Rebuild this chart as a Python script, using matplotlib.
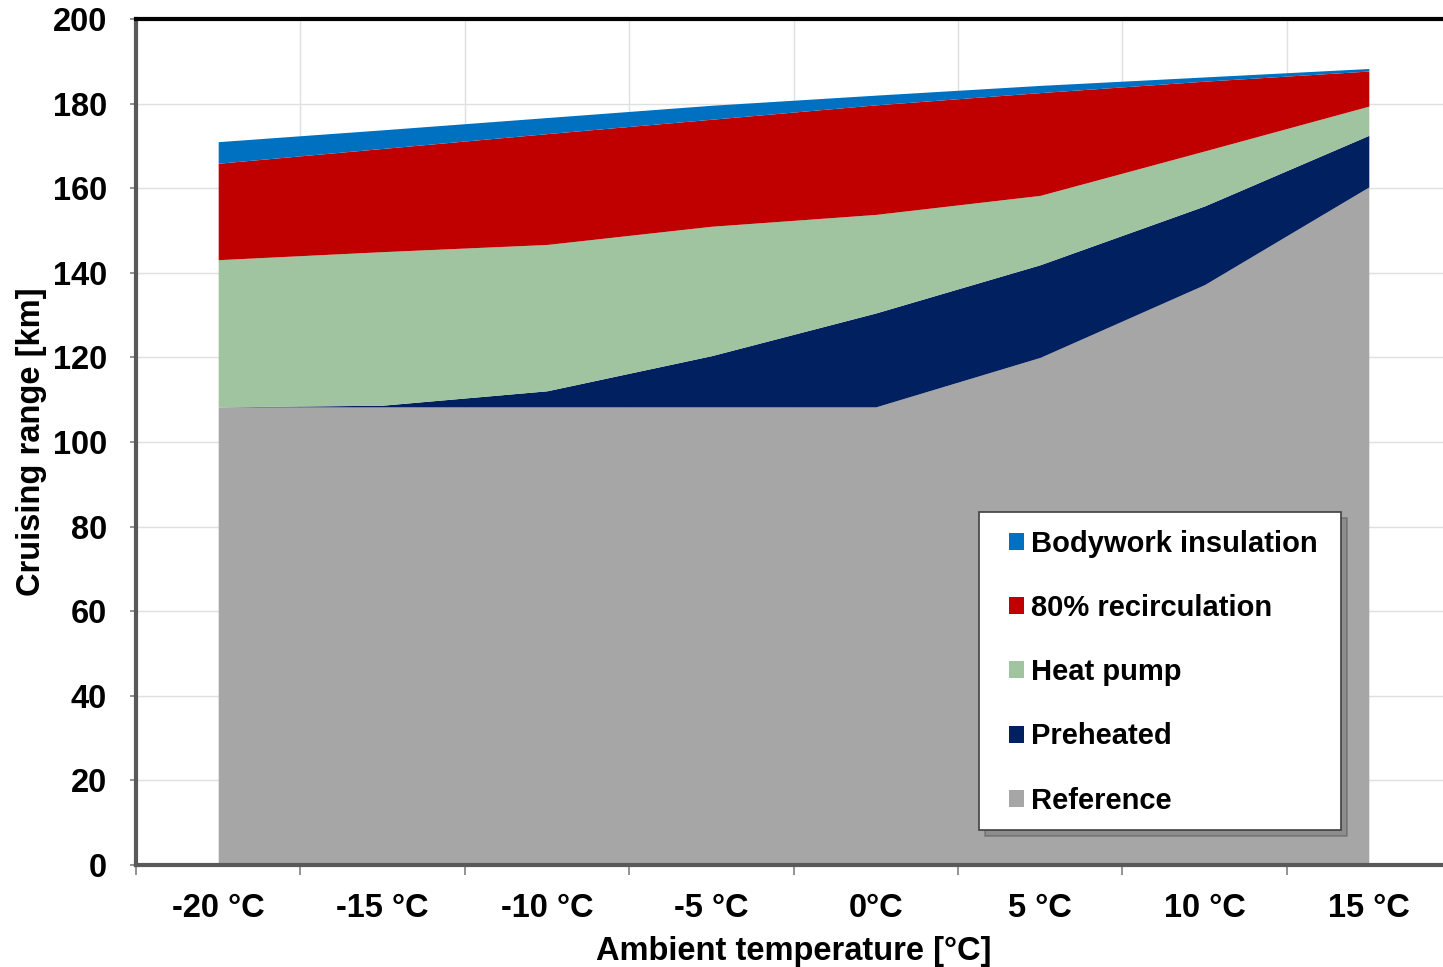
import matplotlib
matplotlib.use("Agg")
import matplotlib.pyplot as plt
from matplotlib.patches import Patch, Rectangle, Shadow
import numpy as np

# Ambient temperatures (categories)
temps = ["-20 °C", "-15 °C", "-10 °C", "-5 °C", "0°C", "5 °C", "10 °C", "15 °C"]

# Cruising range [km] reached with each measure (cumulative, bottom to top)
reference = [108.3, 108.3, 108.3, 108.3, 108.3, 120.0, 137.2, 160.3]
preheated = [108.3, 108.7, 112.1, 120.4, 130.5, 141.9, 155.8, 172.5]
heat_pump = [143.1, 145.0, 146.7, 151.0, 153.8, 158.3, 168.8, 179.4]
recirculation = [165.9, 169.4, 172.9, 176.3, 179.7, 182.6, 185.3, 187.7]
insulation = [171.0, 173.8, 176.7, 179.6, 182.0, 184.3, 186.3, 188.3]

series_names = ["Reference", "Preheated", "Heat pump", "80% recirculation", "Bodywork insulation"]
series_colors = ["#A6A6A6", "#002060", "#A0C49F", "#C00000", "#0070C0"]

plt.rcParams["font.family"] = ["Liberation Sans", "DejaVu Sans"]
plt.rcParams["font.weight"] = "bold"

fig = plt.figure(figsize=(14.43, 9.67), dpi=100)
W, H = 1443, 967
ax = fig.add_axes([136 / W, 1 - 865 / H, (1451 - 136) / W, (865 - 19) / H])

x = np.arange(len(temps))
layers = [np.zeros(len(temps)), reference, preheated, heat_pump, recirculation, insulation]
for lo, hi, c in zip(layers[:-1], layers[1:], series_colors):
    ax.fill_between(x, lo, hi, color=c, linewidth=0, zorder=2)

ax.set_xlim(-0.5, len(temps) - 0.5)
ax.set_ylim(0, 200)
ax.set_yticks(np.arange(0, 201, 20))

# category labels in the middle, ticks/grid on the boundaries
ax.set_xticks(x)
ax.set_xticklabels(temps)
ax.set_xticks(np.arange(-0.5, len(temps)), minor=True)
ax.tick_params(axis="x", which="major", length=0, pad=20, labelsize=23.5)
ax.tick_params(axis="x", which="minor", length=7, width=1.2, color="#808080", direction="out")
ax.tick_params(axis="y", length=4, width=1.2, color="#808080", direction="out", pad=17, labelsize=23.5)

ax.grid(True, axis="y", color="#E0E0E0", linewidth=1, zorder=0)
ax.grid(True, axis="x", which="minor", color="#E0E0E0", linewidth=1, zorder=0)
ax.set_axisbelow(True)

for side in ["left", "bottom"]:
    ax.spines[side].set_color("#595959")
    ax.spines[side].set_linewidth(3)
ax.spines["top"].set_color("black")
ax.spines["top"].set_linewidth(3)
ax.spines["right"].set_visible(False)

ax.set_xlabel("Ambient temperature [°C]", fontsize=23.5, fontweight="bold", labelpad=9)
ax.set_ylabel("Cruising range [km]", fontsize=23.5, fontweight="bold", labelpad=4)

# legend frame with a drop shadow
box = Rectangle((979 / W, 1 - 830 / H), (1341 - 979) / W, (830 - 512) / H,
                transform=fig.transFigure, facecolor="white", edgecolor="#404040",
                linewidth=1.2, zorder=5)
shadow = Shadow(box, 4 / W, -4 / H, facecolor="#707070", alpha=0.45, zorder=4.5)
fig.add_artist(shadow)
fig.add_artist(box)

handles = [Patch(facecolor=c, edgecolor="none") for c in series_colors[::-1]]
leg = fig.legend(handles, series_names[::-1], loc="upper left",
                 bbox_to_anchor=(1009 / W, 1 - 530 / H), bbox_transform=fig.transFigure,
                 borderaxespad=0, borderpad=0, frameon=False,
                 prop={"size": 21, "weight": "bold"},
                 handlelength=0.52, handleheight=0.52, handletextpad=0.24,
                 labelspacing=1.24)
leg.set_zorder(6)

fig.savefig("out.png", dpi=100)
